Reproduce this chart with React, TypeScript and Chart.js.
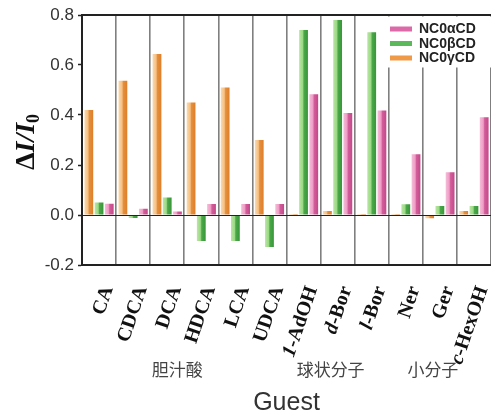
import React, { useEffect, useRef } from 'react';
import { Chart, registerables } from 'chart.js';

Chart.register(...registerables);

// ---- data ----
const categories = ['CA', 'CDCA', 'DCA', 'HDCA', 'LCA', 'UDCA', '1-AdOH', 'd-Bor', 'l-Bor', 'Ner', 'Ger', 'c-HexOH'];
const gammaCD = [0.42, 0.537, 0.644, 0.45, 0.51, 0.3, 0.004, 0.016, 0.004, 0.004, -0.013, 0.016];
const betaCD = [0.05, -0.012, 0.07, -0.104, -0.104, -0.128, 0.74, 0.78, 0.731, 0.043, 0.036, 0.036];
const alphaCD = [0.045, 0.025, 0.014, 0.044, 0.044, 0.044, 0.483, 0.408, 0.418, 0.243, 0.171, 0.391];
const seriesNames = ['NC0αCD', 'NC0βCD', 'NC0γCD'];
const yMin = -0.2;
const yMax = 0.8;
const yStep = 0.2;
const groupLabels = ['胆汁酸', '球状分子', '小分子'];
const groupSpans = [[0, 5], [6, 8], [9, 11]];
const italicPrefix: Record<string, string> = { '1-AdOH': '1', 'd-Bor': 'd', 'l-Bor': 'l', 'c-HexOH': 'c' };

// palettes: [light, lightMid, darkMid, dark, legend]
const palGamma = ['#fbd9ad', '#f6c084', '#e58f3c', '#dd7f2a', '#f09a48'];
const palBeta = ['#b9e6a2', '#9bd985', '#4aa84a', '#389538', '#5bb85b'];
const palAlpha = ['#f6bcd8', '#ef9cc5', '#d25d9a', '#c4488a', '#dc6aa8'];

const gradientPlugin = {
  id: 'barGradient',
  beforeDatasetsDraw(chart: any) {
    const ctx = chart.ctx;
    chart.data.datasets.forEach((ds: any, di: number) => {
      const pal = ds.palette as string[];
      const meta = chart.getDatasetMeta(di);
      meta.data.forEach((el: any) => {
        const { x, width } = el.getProps(['x', 'width'], true);
        const g = ctx.createLinearGradient(x - width / 2, 0, x + width / 2, 0);
        g.addColorStop(0, pal[0]);
        g.addColorStop(0.4, pal[1]);
        g.addColorStop(0.55, pal[2]);
        g.addColorStop(1, pal[3]);
        el.options = { ...el.options, backgroundColor: g };
      });
    });
  },
};

const decorPlugin = {
  id: 'decor',
  afterDatasetsDraw(chart: any) {
    const ctx = chart.ctx;
    const { left, right, top } = chart.chartArea;
    const ys = chart.scales.y;
    const y0 = ys.getPixelForValue(0);
    ctx.save();
    ctx.strokeStyle = '#222';
    ctx.lineWidth = 1;
    ctx.beginPath();
    ctx.moveTo(left, Math.round(y0) + 0.5);
    ctx.lineTo(right, Math.round(y0) + 0.5);
    ctx.stroke();
    ctx.lineWidth = 2;
    ctx.beginPath();
    ctx.moveTo(left, top);
    ctx.lineTo(right, top);
    ctx.stroke();
    ctx.restore();
  },
  afterDraw(chart: any) {
    const ctx = chart.ctx;
    const xs = chart.scales.x;
    const { top, bottom } = chart.chartArea;
    ctx.save();

    // legend
    const order = [2, 1, 0];
    ctx.fillStyle = '#fff';
    ctx.fillRect(384, top + 1.5, 107, 51);
    order.forEach((di, k) => {
      const ds = chart.data.datasets[di];
      const y = 29 + k * 14.5;
      ctx.fillStyle = ds.palette[4];
      ctx.fillRect(390, y - 2.5, 22, 5);
      ctx.fillStyle = '#222';
      ctx.font = 'bold 14px "Liberation Sans", Arial, sans-serif';
      ctx.textBaseline = 'middle';
      ctx.textAlign = 'left';
      ctx.fillText(ds.label, 419, y + 0.5);
    });

    // x tick labels
    const ang = (71 * Math.PI) / 180;
    categories.forEach((lab, i) => {
      const x = xs.getPixelForTick(i) + 9;
      const y = bottom + 22;
      const pre = italicPrefix[lab] || '';
      const rest = lab.slice(pre.length);
      ctx.save();
      ctx.translate(x, y);
      ctx.rotate(-ang);
      ctx.fillStyle = '#111';
      ctx.textBaseline = 'middle';
      ctx.textAlign = 'left';
      ctx.font = 'bold 20px "Liberation Serif", "Times New Roman", serif';
      const wRest = ctx.measureText(rest).width;
      ctx.font = 'italic bold 20px "Liberation Serif", "Times New Roman", serif';
      const wPre = pre ? ctx.measureText(pre).width : 0;
      const start = -(wRest + wPre);
      if (pre) ctx.fillText(pre, start, 0);
      ctx.font = 'bold 20px "Liberation Serif", "Times New Roman", serif';
      ctx.fillText(rest, start + wPre, 0);
      ctx.restore();
    });

    // group labels
    ctx.fillStyle = '#444';
    ctx.font = '17px "Noto Sans CJK SC", sans-serif';
    ctx.textAlign = 'center';
    ctx.textBaseline = 'middle';
    groupLabels.forEach((g, k) => {
      const [a, b] = groupSpans[k];
      const cx = (xs.getPixelForTick(a) + xs.getPixelForTick(b)) / 2 - 7;
      ctx.fillText(g, cx, 370);
    });

    // x title
    ctx.fillStyle = '#333';
    ctx.font = '25px "Liberation Sans", Arial, sans-serif';
    ctx.textBaseline = 'alphabetic';
    ctx.fillText('Guest', (chart.chartArea.left + chart.chartArea.right) / 2, 410);

    // y title  ΔI/I0
    ctx.save();
    ctx.translate(27, 142);
    ctx.rotate(-Math.PI / 2);
    ctx.fillStyle = '#111';
    ctx.textBaseline = 'middle';
    ctx.textAlign = 'left';
    const fB = 'bold 28px "Liberation Serif", "Times New Roman", serif';
    const fBI = 'italic bold 28px "Liberation Serif", "Times New Roman", serif';
    const fSub = 'bold 18px "Liberation Serif", "Times New Roman", serif';
    ctx.font = fB;
    const w1 = ctx.measureText('Δ').width;
    ctx.font = fBI;
    const w2 = ctx.measureText('I/I').width;
    ctx.font = fSub;
    const w3 = ctx.measureText('0').width;
    let sx = -(w1 + w2 + w3) / 2;
    ctx.font = fB;
    ctx.fillText('Δ', sx, 0);
    sx += w1;
    ctx.font = fBI;
    ctx.fillText('I/I', sx, 0);
    sx += w2;
    ctx.font = fSub;
    ctx.fillText('0', sx, 7);
    ctx.restore();

    ctx.restore();
  },
};

export default function App() {
  const ref = useRef<HTMLCanvasElement>(null);
  useEffect(() => {
    document.body.style.margin = '0';
    const canvas = ref.current;
    if (!canvas) return;
    const chart = new Chart(canvas, {
      type: 'bar',
      data: {
        labels: categories,
        datasets: [
          { label: seriesNames[2], data: gammaCD, palette: palGamma, backgroundColor: palGamma[2], borderWidth: 0 } as any,
          { label: seriesNames[1], data: betaCD, palette: palBeta, backgroundColor: palBeta[2], borderWidth: 0 } as any,
          { label: seriesNames[0], data: alphaCD, palette: palAlpha, backgroundColor: palAlpha[2], borderWidth: 0 } as any,
        ],
      },
      options: {
        responsive: false,
        animation: false,
        devicePixelRatio: 1,
        layout: { padding: { top: 15, left: 0, right: 0, bottom: 0 } },
        datasets: { bar: { categoryPercentage: 0.9, barPercentage: 0.86 } },
        plugins: { legend: { display: false }, tooltip: { enabled: false }, title: { display: false } },
        scales: {
          x: {
            offset: true,
            grid: { offset: true, color: '#7f7f7f', lineWidth: 1.6, drawTicks: false },
            border: { display: true, color: '#222', width: 2 },
            ticks: { display: false },
            afterFit: (s: any) => { s.height = 147; },
          },
          y: {
            min: yMin,
            max: yMax,
            ticks: {
              stepSize: yStep,
              color: '#333',
              padding: 4,
              font: { family: '"Liberation Sans", Arial, sans-serif', size: 17 },
              callback: (v: any) => Number(v).toFixed(1),
            },
            grid: { drawOnChartArea: false, drawTicks: true, tickLength: 4, tickColor: '#222', tickWidth: 1.5 },
            border: { display: true, color: '#222', width: 2 },
            afterFit: (s: any) => { s.width = 82; },
          },
        },
      },
      plugins: [gradientPlugin, decorPlugin],
    } as any);
    return () => chart.destroy();
  }, []);
  return <canvas ref={ref} width={491} height={412} style={{ display: 'block', width: 491, height: 412 }} />;
}
